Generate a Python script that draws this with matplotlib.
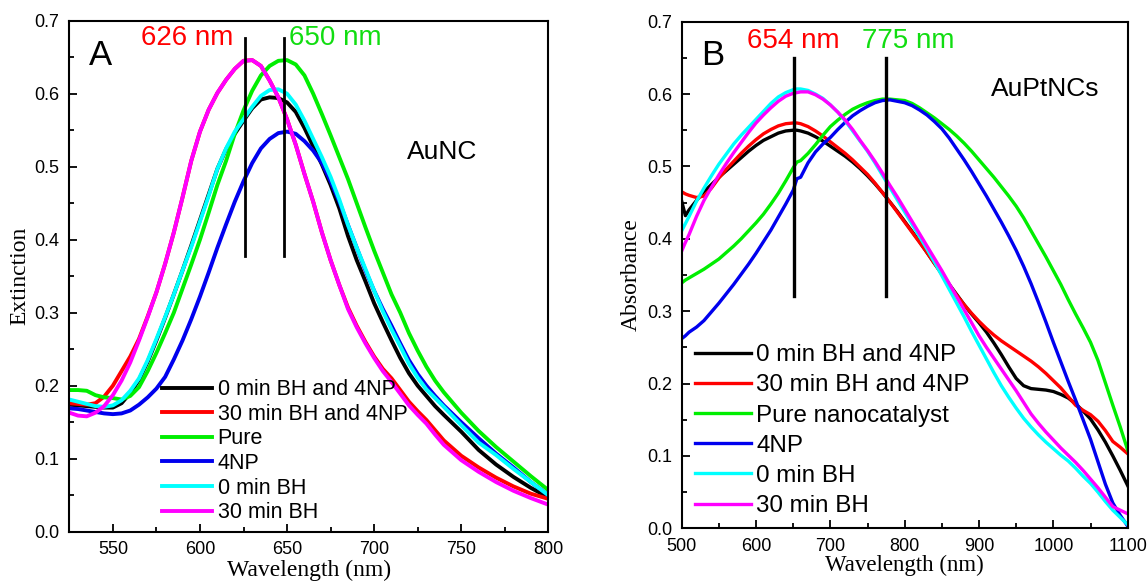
import matplotlib
matplotlib.use("Agg")
import matplotlib.pyplot as plt
from matplotlib.ticker import MultipleLocator

plt.rcParams["font.family"] = ["Liberation Sans", "DejaVu Sans"]

# ---- Panel A: AuNC extinction spectra ----
WL_A = [525, 530, 535, 540, 545, 550, 555, 560, 565, 570, 575, 580, 585, 590,
        595, 600, 605, 610, 615, 620, 625, 630, 635, 640, 645, 650, 655, 660,
        665, 670, 675, 680, 685, 690, 695, 700, 705, 710, 715, 720, 725, 730,
        735, 740, 750, 760, 770, 780, 790, 800]

A_BH0_4NP = [0.174, 0.173, 0.172, 0.171, 0.170, 0.170, 0.176, 0.190, 0.208, 0.233,
             0.262, 0.293, 0.325, 0.358, 0.392, 0.427, 0.462, 0.497, 0.524, 0.545,
             0.563, 0.580, 0.592, 0.595, 0.594, 0.588, 0.575, 0.553, 0.528, 0.503,
             0.475, 0.443, 0.405, 0.372, 0.343, 0.313, 0.287, 0.262, 0.238, 0.217,
             0.200, 0.186, 0.172, 0.160, 0.137, 0.112, 0.092, 0.075, 0.060, 0.047]
A_BH30_4NP = [0.176, 0.175, 0.174, 0.176, 0.185, 0.200, 0.220, 0.240, 0.264, 0.295,
              0.328, 0.367, 0.410, 0.458, 0.508, 0.548, 0.578, 0.601, 0.619, 0.634,
              0.645, 0.646, 0.638, 0.618, 0.595, 0.565, 0.530, 0.490, 0.452, 0.410,
              0.372, 0.338, 0.307, 0.282, 0.260, 0.240, 0.223, 0.210, 0.194, 0.178,
              0.165, 0.153, 0.139, 0.125, 0.104, 0.088, 0.074, 0.062, 0.052, 0.045]
A_PURE = [0.194, 0.194, 0.193, 0.187, 0.184, 0.183, 0.181, 0.186, 0.198, 0.220,
          0.245, 0.272, 0.300, 0.333, 0.366, 0.400, 0.437, 0.475, 0.508, 0.545,
          0.577, 0.604, 0.625, 0.638, 0.645, 0.646, 0.640, 0.625, 0.600, 0.572,
          0.543, 0.513, 0.483, 0.450, 0.417, 0.385, 0.355, 0.325, 0.300, 0.272,
          0.248, 0.226, 0.207, 0.191, 0.163, 0.138, 0.116, 0.096, 0.076, 0.057]
A_4NP = [0.169, 0.168, 0.166, 0.164, 0.162, 0.161, 0.162, 0.166, 0.174, 0.184,
         0.196, 0.212, 0.236, 0.262, 0.291, 0.322, 0.355, 0.389, 0.421, 0.452,
         0.480, 0.505, 0.525, 0.538, 0.546, 0.548, 0.545, 0.535, 0.522, 0.505,
         0.480, 0.452, 0.420, 0.389, 0.358, 0.330, 0.305, 0.282, 0.258, 0.235,
         0.216, 0.200, 0.186, 0.173, 0.150, 0.128, 0.107, 0.088, 0.068, 0.050]
A_BH0 = [0.181, 0.178, 0.175, 0.172, 0.171, 0.173, 0.180, 0.193, 0.210, 0.235,
         0.264, 0.294, 0.325, 0.358, 0.390, 0.425, 0.460, 0.497, 0.525, 0.548,
         0.565, 0.582, 0.597, 0.605, 0.606, 0.600, 0.585, 0.563, 0.538, 0.513,
         0.486, 0.455, 0.420, 0.389, 0.360, 0.330, 0.302, 0.277, 0.254, 0.230,
         0.211, 0.195, 0.183, 0.171, 0.146, 0.122, 0.105, 0.086, 0.068, 0.050]
A_BH30 = [0.163, 0.159, 0.158, 0.163, 0.172, 0.187, 0.207, 0.232, 0.262, 0.294,
          0.328, 0.367, 0.410, 0.458, 0.508, 0.548, 0.578, 0.601, 0.619, 0.634,
          0.645, 0.646, 0.638, 0.618, 0.595, 0.565, 0.530, 0.490, 0.452, 0.410,
          0.372, 0.338, 0.305, 0.280, 0.258, 0.238, 0.220, 0.205, 0.189, 0.173,
          0.160, 0.148, 0.133, 0.119, 0.098, 0.082, 0.068, 0.056, 0.046, 0.037]

LABELS_A = ["0 min BH and 4NP", "30 min BH and 4NP", "Pure", "4NP",
            "0 min BH", "30 min BH"]
PEAKS_A = [626, 648]

# ---- Panel B: AuPtNCs absorbance spectra ----
WL_B = [500, 505, 510, 520, 530, 540, 550, 560, 570, 580, 590, 600, 610, 620,
        630, 640, 650, 655, 660, 670, 680, 690, 700, 710, 720, 730, 740, 750,
        760, 770, 780, 790, 800, 810, 820, 830, 840, 850, 860, 870, 880, 890,
        900, 910, 920, 930, 940, 950, 960, 970, 980, 990, 1000, 1010, 1020,
        1030, 1040, 1050, 1060, 1070, 1080, 1090, 1100]

B_BH0_4NP = [0.452, 0.432, 0.440, 0.453, 0.465, 0.475, 0.485, 0.494, 0.503, 0.512,
             0.521, 0.529, 0.536, 0.541, 0.546, 0.549, 0.550, 0.550, 0.549, 0.546,
             0.541, 0.535, 0.528, 0.521, 0.514, 0.506, 0.497, 0.487, 0.476, 0.464,
             0.451, 0.438, 0.424, 0.410, 0.396, 0.381, 0.366, 0.352, 0.337, 0.323,
             0.309, 0.296, 0.284, 0.271, 0.256, 0.240, 0.223, 0.207, 0.197, 0.193,
             0.192, 0.191, 0.189, 0.185, 0.180, 0.172, 0.162, 0.151, 0.136, 0.119,
             0.100, 0.080, 0.059]
B_BH30_4NP = [0.465, 0.462, 0.460, 0.457, 0.459, 0.470, 0.484, 0.496, 0.507, 0.518,
              0.528, 0.537, 0.545, 0.551, 0.556, 0.559, 0.560, 0.560, 0.559, 0.555,
              0.549, 0.542, 0.534, 0.526, 0.518, 0.509, 0.499, 0.489, 0.477, 0.464,
              0.451, 0.437, 0.423, 0.409, 0.395, 0.381, 0.366, 0.351, 0.336, 0.322,
              0.309, 0.297, 0.286, 0.276, 0.267, 0.259, 0.252, 0.245, 0.238, 0.231,
              0.223, 0.214, 0.204, 0.194, 0.182, 0.170, 0.163, 0.157, 0.148, 0.135,
              0.120, 0.112, 0.103]
B_PURE = [0.339, 0.343, 0.346, 0.352, 0.358, 0.365, 0.372, 0.381, 0.390, 0.400,
          0.411, 0.422, 0.434, 0.448, 0.463, 0.480, 0.498, 0.506, 0.508, 0.518,
          0.530, 0.543, 0.555, 0.564, 0.572, 0.579, 0.584, 0.588, 0.591, 0.593,
          0.593, 0.592, 0.591, 0.587, 0.581, 0.574, 0.567, 0.559, 0.551, 0.542,
          0.532, 0.521, 0.509, 0.497, 0.485, 0.472, 0.459, 0.445, 0.429, 0.411,
          0.393, 0.375, 0.356, 0.337, 0.316, 0.296, 0.277, 0.257, 0.232, 0.201,
          0.170, 0.140, 0.108]
B_4NP = [0.262, 0.266, 0.271, 0.278, 0.287, 0.299, 0.311, 0.324, 0.337, 0.351,
         0.365, 0.380, 0.396, 0.412, 0.430, 0.448, 0.467, 0.483, 0.485, 0.505,
         0.520, 0.531, 0.540, 0.551, 0.561, 0.570, 0.577, 0.583, 0.588, 0.591,
         0.592, 0.590, 0.588, 0.584, 0.578, 0.571, 0.562, 0.552, 0.539, 0.524,
         0.509, 0.493, 0.476, 0.459, 0.441, 0.423, 0.404, 0.384, 0.362, 0.338,
         0.312, 0.285, 0.257, 0.230, 0.203, 0.177, 0.150, 0.123, 0.092, 0.061,
         0.035, 0.018, 0.003]
B_BH0 = [0.411, 0.421, 0.431, 0.452, 0.470, 0.487, 0.503, 0.517, 0.531, 0.543,
         0.554, 0.565, 0.576, 0.587, 0.596, 0.602, 0.606, 0.607, 0.607, 0.605,
         0.600, 0.594, 0.585, 0.575, 0.563, 0.549, 0.535, 0.521, 0.505, 0.488,
         0.471, 0.454, 0.437, 0.420, 0.403, 0.386, 0.368, 0.349, 0.330, 0.311,
         0.292, 0.272, 0.253, 0.234, 0.215, 0.197, 0.181, 0.166, 0.152, 0.140,
         0.129, 0.119, 0.110, 0.101, 0.093, 0.083, 0.072, 0.062, 0.050, 0.037,
         0.025, 0.015, 0.005]
B_BH30 = [0.383, 0.395, 0.406, 0.431, 0.453, 0.471, 0.488, 0.504, 0.519, 0.533,
          0.547, 0.560, 0.571, 0.581, 0.590, 0.597, 0.601, 0.602, 0.603, 0.603,
          0.599, 0.593, 0.585, 0.575, 0.564, 0.551, 0.536, 0.522, 0.507, 0.491,
          0.474, 0.458, 0.441, 0.424, 0.407, 0.390, 0.373, 0.356, 0.338, 0.320,
          0.302, 0.284, 0.266, 0.250, 0.235, 0.220, 0.205, 0.190, 0.174, 0.158,
          0.145, 0.133, 0.122, 0.111, 0.101, 0.091, 0.080, 0.068, 0.056, 0.043,
          0.030, 0.025, 0.020]

LABELS_B = ["0 min BH and 4NP", "30 min BH and 4NP", "Pure nanocatalyst", "4NP",
            "0 min BH", "30 min BH"]
PEAKS_B = [651, 775]

COLORS = ["#000000", "#ff0000", "#00ee00", "#0000ee", "#00ffff", "#ff00ff"]
GREEN_TEXT = "#11dd11"
SERIF = ["Liberation Serif", "DejaVu Serif"]


def style_axes(ax):
    for spine in ax.spines.values():
        spine.set_linewidth(1.5)
    ax.tick_params(which="both", direction="in", top=False, right=False,
                   width=1.3, labelsize=13, pad=7)
    ax.tick_params(which="major", length=6)
    ax.tick_params(which="minor", length=3.5)
    ax.yaxis.set_major_locator(MultipleLocator(0.1))
    ax.yaxis.set_minor_locator(MultipleLocator(0.05))
    ax.yaxis.set_major_formatter(plt.FormatStrFormatter("%.1f"))
    ax.set_ylim(0.0, 0.7)


def plot_panel_a(fig):
    ax = fig.add_axes([0.0604, 0.0896, 0.4172, 0.875])

    series = [A_BH0_4NP, A_BH30_4NP, A_PURE, A_4NP, A_BH0, A_BH30]
    for values, color, label in zip(series, COLORS, LABELS_A):
        ax.plot(WL_A, values, color=color, linewidth=2.8, label=label)

    for peak in PEAKS_A:
        ax.plot([peak, peak], [0.377, 0.676], color="black", linewidth=2.0)

    ax.text(592.4, 0.667, "626 nm", color="red", fontsize=20,
            ha="center", va="baseline")
    ax.text(678, 0.667, "650 nm", color=GREEN_TEXT, fontsize=20,
            ha="center", va="baseline")
    ax.text(543.1, 0.639, "A", fontsize=25, ha="center", va="baseline")
    ax.text(718.7, 0.51, "AuNC", fontsize=19, ha="left", va="baseline")

    ax.set_xlim(525, 800)
    ax.xaxis.set_major_locator(MultipleLocator(50))
    ax.xaxis.set_minor_locator(MultipleLocator(25))
    style_axes(ax)

    ax.set_xlabel("Wavelength (nm)", family=SERIF, fontsize=17, labelpad=1)
    ax.set_ylabel("Extinction", family=SERIF, fontsize=17, labelpad=3)

    ax.legend(loc="center left", bbox_to_anchor=(0.193, 0.1575),
              frameon=False, fontsize=15.5, handlelength=2.35,
              handletextpad=0.25, labelspacing=0.17, borderpad=0,
              borderaxespad=0)


def plot_panel_b(fig):
    ax = fig.add_axes([0.5938, 0.0954, 0.3885, 0.8675])

    series = [B_BH0_4NP, B_BH30_4NP, B_PURE, B_4NP, B_BH0, B_BH30]
    for values, color, label in zip(series, COLORS, LABELS_B):
        ax.plot(WL_B, values, color=color, linewidth=2.4, label=label)

    for peak in PEAKS_B:
        ax.plot([peak, peak], [0.321, 0.650], color="black", linewidth=2.4)

    ax.text(650.5, 0.663, "654 nm", color="red", fontsize=20,
            ha="center", va="baseline")
    ax.text(804.5, 0.663, "775 nm", color=GREEN_TEXT, fontsize=20,
            ha="center", va="baseline")
    ax.text(541.7, 0.640, "B", fontsize=25, ha="center", va="baseline")
    ax.text(916.5, 0.597, "AuPtNCs", fontsize=19, ha="left", va="baseline")

    ax.set_xlim(500, 1100)
    ax.xaxis.set_major_locator(MultipleLocator(100))
    ax.xaxis.set_minor_locator(MultipleLocator(50))
    style_axes(ax)

    ax.set_xlabel("Wavelength (nm)", family=SERIF, fontsize=16.5, labelpad=0)
    ax.set_ylabel("Absorbance", family=SERIF, fontsize=17, labelpad=4)

    ax.legend(loc="center left", bbox_to_anchor=(0.03, 0.1928),
              frameon=False, fontsize=17.4, handlelength=2.3,
              handletextpad=0.24, labelspacing=0.34, borderpad=0,
              borderaxespad=0)


def main():
    fig = plt.figure(figsize=(11.48, 5.84), dpi=100)
    plot_panel_a(fig)
    plot_panel_b(fig)
    fig.savefig("out.png", dpi=100)
    plt.close(fig)


if __name__ == "__main__":
    main()
